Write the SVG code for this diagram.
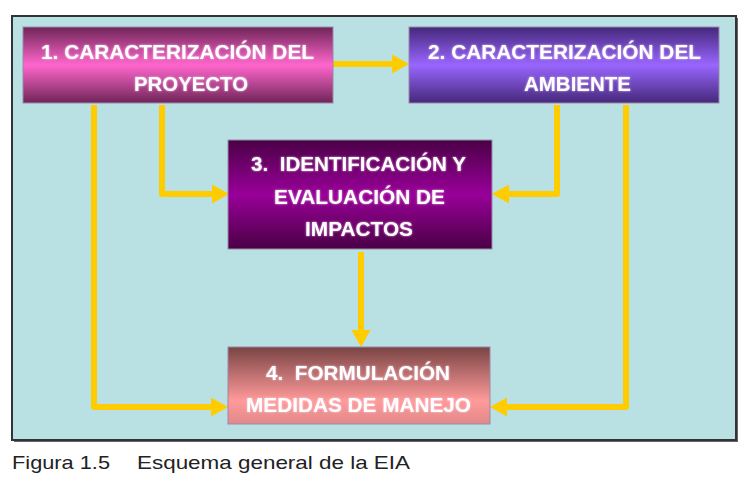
<svg xmlns="http://www.w3.org/2000/svg" width="749" height="501" viewBox="0 0 749 501">
<style>
.box{stroke:#9a8aa8;stroke-width:1}
.lbl{font-family:"Liberation Sans",Arial,sans-serif;font-weight:bold;font-size:20px;fill:#ffffff;filter:url(#glow)}
.con{fill:none;stroke:#ffcc00;stroke-width:6;stroke-linejoin:round;marker-end:url(#ah)}
.cap{font-family:"Liberation Sans",Arial,sans-serif;font-size:19px;fill:#222222}
</style>
<defs>
<linearGradient id="g1" x1="0" y1="0" x2="0" y2="1">
<stop offset="0" stop-color="#6e2558"/><stop offset="0.5" stop-color="#ff66cc"/><stop offset="1" stop-color="#6e2558"/>
</linearGradient>
<linearGradient id="g2" x1="0" y1="0" x2="0" y2="1">
<stop offset="0" stop-color="#45287a"/><stop offset="0.5" stop-color="#9966ff"/><stop offset="1" stop-color="#45287a"/>
</linearGradient>
<linearGradient id="g3" x1="0" y1="0" x2="0" y2="1">
<stop offset="0" stop-color="#4a0045"/><stop offset="0.5" stop-color="#990099"/><stop offset="1" stop-color="#4a0045"/>
</linearGradient>
<linearGradient id="g4" x1="0" y1="0" x2="0" y2="1">
<stop offset="0" stop-color="#7a4444"/><stop offset="0.7" stop-color="#ff9a9a"/><stop offset="1" stop-color="#e08888"/>
</linearGradient>
<filter id="glow" x="-5%" y="-30%" width="110%" height="160%">
<feGaussianBlur in="SourceAlpha" stdDeviation="1.2" result="b"/>
<feFlood flood-color="#ffe6fa" flood-opacity="0.7"/>
<feComposite in2="b" operator="in" result="g"/>
<feMerge><feMergeNode in="g"/><feMergeNode in="SourceGraphic"/></feMerge>
</filter>
<marker id="ah" viewBox="0 0 17 19" refX="5" refY="9.5" markerWidth="17" markerHeight="19" markerUnits="userSpaceOnUse" orient="auto">
<path d="M0,0 L17,9.5 L0,19 z" fill="#ffcc00"/>
</marker>
</defs>
<rect x="0" y="0" width="749" height="501" fill="#ffffff"/>
<g id="frame">
<rect x="14" y="18" width="724" height="424" fill="#666666"/>
<rect x="12" y="16" width="724" height="424" fill="#b9e0e3" stroke="#333333" stroke-width="2"/>
</g>
<g id="connectors">
<path class="con" d="M333,64 H397"/>
<path class="con" d="M162,105 V194 H217"/>
<path class="con" d="M94,105 V407 H216"/>
<path class="con" d="M557,105 V194 H504"/>
<path class="con" d="M626,105 V407 H502"/>
<path class="con" d="M361,252 V335"/>
</g>
<g id="node1">
<rect class="box" x="23" y="27" width="310" height="76" fill="url(#g1)"/>
<text class="lbl" x="41" y="59" textLength="273" lengthAdjust="spacingAndGlyphs">1. CARACTERIZACIÓN DEL</text>
<text class="lbl" x="134" y="91" textLength="114" lengthAdjust="spacingAndGlyphs">PROYECTO</text>
</g>
<g id="node2">
<rect class="box" x="409" y="27" width="310" height="76" fill="url(#g2)"/>
<text class="lbl" x="428" y="59" textLength="273" lengthAdjust="spacingAndGlyphs">2. CARACTERIZACIÓN DEL</text>
<text class="lbl" x="524" y="91" textLength="107" lengthAdjust="spacingAndGlyphs">AMBIENTE</text>
</g>
<g id="node3">
<rect class="box" x="228" y="140" width="264" height="109" fill="url(#g3)"/>
<text class="lbl" x="251" y="171" textLength="215" lengthAdjust="spacingAndGlyphs">3.&#160; IDENTIFICACIÓN Y</text>
<text class="lbl" x="274" y="204" textLength="171" lengthAdjust="spacingAndGlyphs">EVALUACIÓN DE</text>
<text class="lbl" x="305" y="236" textLength="108" lengthAdjust="spacingAndGlyphs">IMPACTOS</text>
</g>
<g id="node4">
<rect class="box" x="228" y="347" width="262" height="77" fill="url(#g4)"/>
<text class="lbl" x="266" y="380" textLength="184" lengthAdjust="spacingAndGlyphs">4.&#160; FORMULACIÓN</text>
<text class="lbl" x="246" y="412" textLength="225" lengthAdjust="spacingAndGlyphs">MEDIDAS DE MANEJO</text>
</g>
<g id="caption">
<text class="cap" x="12" y="469" textLength="98" lengthAdjust="spacingAndGlyphs">Figura 1.5</text>
<text class="cap" x="137" y="469" textLength="273" lengthAdjust="spacingAndGlyphs">Esquema general de la EIA</text>
</g>
</svg>
